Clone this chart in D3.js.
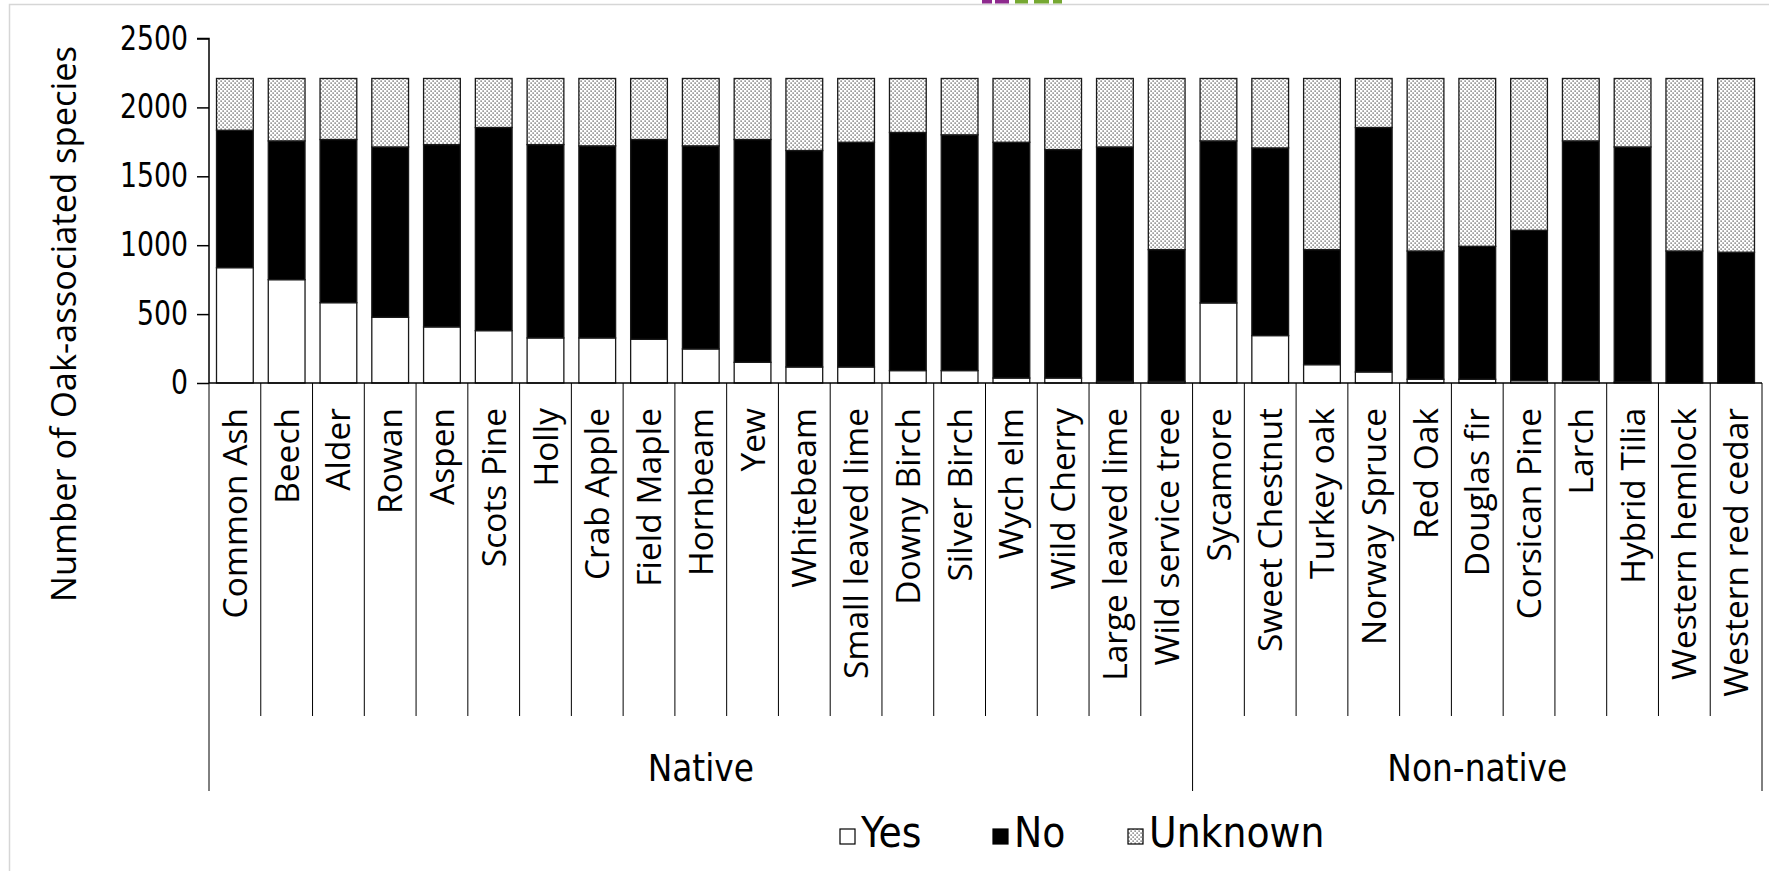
<!DOCTYPE html>
<html>
<head>
<meta charset="utf-8">
<script src="https://cdn.jsdelivr.net/npm/d3@7/dist/d3.min.js"></script>
<style>
  html, body { margin: 0; padding: 0; background: #fff; }
  svg { display: block; }
</style>
</head>
<body>
<svg id="chart" width="1769" height="871"></svg>
<script>
// ---- data ----
const categories = ["Common Ash","Beech","Alder","Rowan","Aspen","Scots Pine","Holly","Crab Apple","Field Maple","Hornbeam","Yew","Whitebeam","Small leaved lime","Downy Birch","Silver Birch","Wych elm","Wild Cherry","Large leaved lime","Wild service tree","Sycamore","Sweet Chestnut","Turkey oak","Norway Spruce","Red Oak","Douglas fir","Corsican Pine","Larch","Hybrid Tilia","Western hemlock","Western red cedar"];
const yesValues     = [837,750,583,477,407,380,327,327,317,247,150,116,116,90,90,36,36,12,12,581,344,133,80,27,27,17,17,7,0,0];
const noValues      = [997,1007,1184,1236,1323,1474,1403,1394,1450,1474,1617,1571,1631,1728,1711,1711,1658,1701,956,1176,1362,835,1774,931,965,1091,1740,1706,958,949];
const unknownValues = [376,453,443,497,480,356,480,489,443,489,443,523,463,392,409,463,516,497,1242,453,504,1242,356,1252,1218,1102,453,497,1252,1261];
const groups = [{name:"Native", count:19},{name:"Non-native", count:11}];
const yTicks = [0,500,1000,1500,2000,2500];
const seriesNames = ["Yes","No","Unknown"];
const yTitle = "Number of Oak-associated species";

// ---- layout ----
const svg = d3.select("#chart");
const X0 = 209, X1 = 1762, Y0 = 383, Ytop = 38.5;
const defs = svg.append("defs");
const pat = defs.append("pattern").attr("id","dots").attr("width",4).attr("height",4).attr("patternUnits","userSpaceOnUse");
pat.append("rect").attr("width",4).attr("height",4).attr("fill","#fff");
pat.append("rect").attr("x",0.5).attr("y",0.5).attr("width",1.2).attr("height",1.2).attr("fill","#333");
pat.append("rect").attr("x",2.5).attr("y",2.5).attr("width",1.2).attr("height",1.2).attr("fill","#333");

const fills = {Yes:"#ffffff", No:"#000000", Unknown:"url(#dots)"};
const narrowFont = '"DejaVu Sans Condensed", "Liberation Sans Narrow", "DejaVu Sans", sans-serif';
const labelFont = '"Open Sans", "Noto Sans", sans-serif';

// frame + decoration
svg.append("rect").attr("x",9.5).attr("y",4.5).attr("width",1800).attr("height",900)
  .attr("fill","none").attr("stroke","#d6d6d6").attr("stroke-width",1.5);
const deco = [{x:982,w:10,c:"#8e2a8e"},{x:995,w:14,c:"#8e2a8e"},{x:1015,w:13,c:"#76a832"},{x:1034,w:15,c:"#76a832"},{x:1053,w:9,c:"#76a832"}];
svg.selectAll("rect.deco").data(deco).enter().append("rect").attr("class","deco")
  .attr("x",d=>d.x).attr("y",0).attr("width",d=>d.w).attr("height",3.5).attr("fill",d=>d.c);

const x = d3.scaleBand().domain(categories).range([X0, X1]).paddingInner(0.29).paddingOuter(0.145);
const y = d3.scaleLinear().domain([0,2500]).range([Y0, Ytop]);

const table = categories.map((c,i)=>({cat:c, Yes:yesValues[i], No:noValues[i], Unknown:unknownValues[i]}));
const stack = d3.stack().keys(seriesNames)(table);

const g = svg.append("g");
stack.forEach(layer=>{
  g.selectAll(null).data(layer).enter().append("rect")
    .attr("x", d=>x(d.data.cat))
    .attr("width", x.bandwidth())
    .attr("y", d=>y(d[1]))
    .attr("height", d=>Math.max(0, y(d[0])-y(d[1])))
    .attr("fill", fills[layer.key])
    .attr("stroke", "#1a1a1a")
    .attr("stroke-width", 1.3);
});

// y axis
const yAxis = d3.axisLeft(y).tickValues(yTicks).tickSize(12).tickPadding(9).tickFormat(d3.format("d"));
const ya = svg.append("g").attr("transform",`translate(${X0},0)`).call(yAxis);
ya.select(".domain").attr("stroke","#000").attr("stroke-width",1.5).attr("d",`M-12,${Ytop}H0V${Y0}`);
ya.selectAll(".tick line").attr("stroke","#000").attr("stroke-width",1.5);
ya.selectAll(".tick text").attr("font-family",narrowFont).attr("font-size",33).attr("fill","#000")
  .attr("x",null).attr("transform","translate(-21,0) scale(0.9,1)");

// x axis line
const step = x.step();
svg.append("line").attr("x1",X0).attr("x2",X1).attr("y1",Y0).attr("y2",Y0).attr("stroke","#000").attr("stroke-width",1.5);

// separators
const groupBounds = [0];
groups.reduce((acc,gp)=>{ acc += gp.count; groupBounds.push(acc); return acc; }, 0);
d3.range(0, categories.length+1).forEach(k=>{
  const xx = X0 + k*step;
  const isGroup = groupBounds.includes(k);
  svg.append("line").attr("x1",xx).attr("x2",xx).attr("y1",Y0).attr("y2", isGroup ? 791 : 716)
    .attr("stroke","#000").attr("stroke-width",1);
});

// category labels
svg.selectAll("text.cat").data(categories).enter().append("text").attr("class","cat")
  .attr("transform", d=>`translate(${x(d)+x.bandwidth()/2},408) rotate(-90)`)
  .attr("text-anchor","end").attr("dy","0.36em")
  .attr("font-family",labelFont).attr("font-size",33.5).attr("fill","#000")
  .text(d=>d);

// group labels
let start = 0;
groups.forEach(gp=>{
  const cx = X0 + (start + gp.count/2)*step;
  svg.append("text").attr("x",cx).attr("y",781).attr("text-anchor","middle")
    .attr("font-family",narrowFont).attr("font-size",36.5).attr("fill","#000").text(gp.name);
  start += gp.count;
});

// y title
svg.append("text").attr("transform","translate(64,324) rotate(-90)").attr("text-anchor","middle")
  .attr("dy","0.36em").attr("font-family",labelFont).attr("font-size",34.5).attr("fill","#000").text(yTitle);

// legend
const legX = [840, 993, 1128];
seriesNames.forEach((s,i)=>{
  svg.append("rect").attr("x",legX[i]).attr("y",829).attr("width",15).attr("height",15)
    .attr("fill",fills[s]).attr("stroke","#000").attr("stroke-width",1.2);
  svg.append("text").attr("x",legX[i]+21).attr("y",847).attr("font-family",narrowFont)
    .attr("font-size",42).attr("fill","#000").text(s);
});
</script>
</body>
</html>
